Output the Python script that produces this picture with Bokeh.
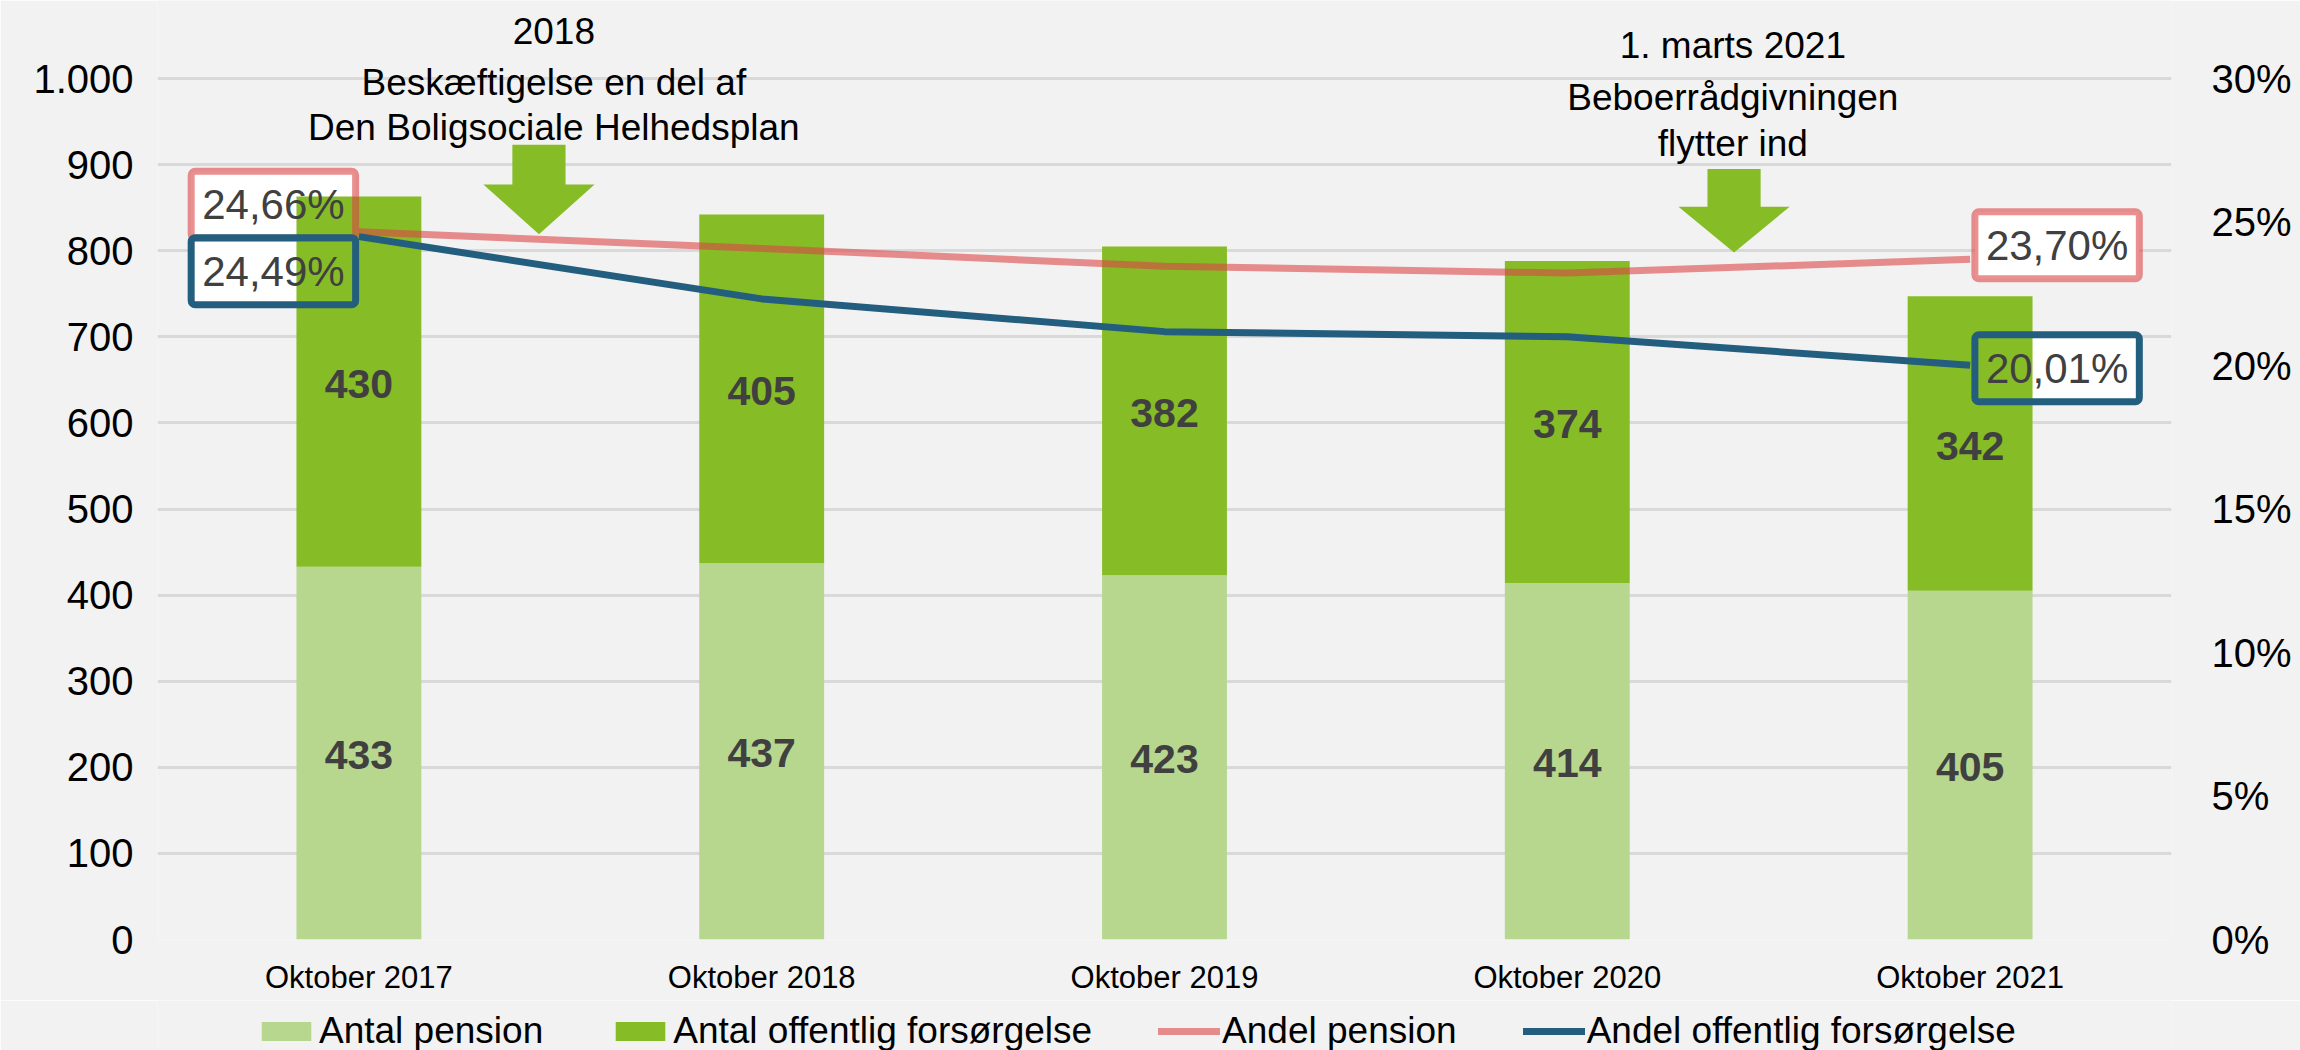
from bokeh.plotting import figure
from bokeh.layouts import column
from bokeh.models import (Range1d, FactorRange, LinearAxis, FixedTicker, Legend,
                          LegendItem, Label, ColumnDataSource)
from bokeh.embed import file_html
from bokeh.resources import INLINE
from bokeh.core.properties import value

# ---------------- data ----------------
categories = ["Oktober 2017", "Oktober 2018", "Oktober 2019", "Oktober 2020", "Oktober 2021"]
antal_pension = [433, 437, 423, 414, 405]
antal_offentlig = [430, 405, 382, 374, 342]
andel_pension = [24.66, 24.08, 23.46, 23.22, 23.70]
andel_offentlig = [24.49, 22.32, 21.18, 21.00, 20.01]

left_ticks = [0, 100, 200, 300, 400, 500, 600, 700, 800, 900, 1000]
left_tick_labels = ["0", "100", "200", "300", "400", "500", "600", "700", "800", "900", "1.000"]
right_ticks = [0, 5, 10, 15, 20, 25, 30]
right_tick_labels = ["0%", "5%", "10%", "15%", "20%", "25%", "30%"]

series_names = ["Antal pension", "Antal offentlig forsørgelse", "Andel pension", "Andel offentlig forsørgelse"]

note1_lines = ["2018", "Beskæftigelse en del af", "Den Boligsociale Helhedsplan"]
note2_lines = ["1. marts 2021", "Beboerrådgivningen", "flytter ind"]

# ---------------- style ----------------
FONT = "Liberation Sans"
BG = "#f2f2f2"
LIGHT_GREEN = "#b7d78f"
DARK_GREEN = "#86bc26"
PINK = "#dc4646"
PINK_ALPHA = 0.6
BLUE = "#235e7e"
LABEL_GRAY = "#404040"

W = 2300
H_MAIN, H_LEG = 1000, 50
FRAME_BOTTOM_PX = 939
PX_PER_UNIT = (939 - 78) / 1000.0          # 1000 gridline sits 78px from the top
Y_MAX = FRAME_BOTTOM_PX / PX_PER_UNIT      # headroom above 1.000 for the notes
PCT_MAX = 30 * Y_MAX / 1000.0

p = figure(width=W, height=H_MAIN,
           x_range=FactorRange(factors=categories, range_padding=0, factor_padding=0),
           y_range=Range1d(0, Y_MAX),
           output_backend="svg", toolbar_location=None,
           min_border_left=157, min_border_right=129, min_border_top=0,
           min_border_bottom=H_MAIN - FRAME_BOTTOM_PX,
           background_fill_color=BG, border_fill_color=BG, outline_line_color=None)

p.extra_y_ranges = {"pct": Range1d(0, PCT_MAX)}

# axes
p.yaxis.ticker = FixedTicker(ticks=left_ticks)
p.yaxis.major_label_overrides = {t: l for t, l in zip(left_ticks, left_tick_labels)}
right_axis = LinearAxis(y_range_name="pct", ticker=FixedTicker(ticks=right_ticks),
                        major_label_overrides={t: l for t, l in zip(right_ticks, right_tick_labels)})
p.add_layout(right_axis, "right")

for ax in [p.yaxis[0], right_axis, p.xaxis[0]]:
    ax.axis_line_color = None
    ax.major_tick_line_color = None
    ax.minor_tick_line_color = None
    ax.major_label_text_font = FONT
    ax.major_label_text_color = "black"
p.yaxis[0].major_label_text_font_size = "40px"
p.yaxis[0].major_label_standoff = 18
right_axis.major_label_text_font_size = "40px"
right_axis.major_label_standoff = 34
p.xaxis[0].major_label_text_font_size = "31px"
p.xaxis[0].major_label_standoff = 14

p.xgrid.grid_line_color = None
p.ygrid.ticker = FixedTicker(ticks=left_ticks)
p.ygrid.grid_line_color = "#d9d9d9"
p.ygrid.grid_line_width = 3

# ---------------- percent label boxes (fill layer, under bars) ----------------
box_src = ColumnDataSource(dict(
    x=[categories[0], categories[0], categories[-1], categories[-1]],
    y=[andel_pension[0], andel_offentlig[0], andel_pension[-1], andel_offentlig[-1]],
    text=[f"{v:.2f}%".replace(".", ",") for v in
          [andel_pension[0], andel_offentlig[0], andel_pension[-1], andel_offentlig[-1]]],
    xo=[-85.5, -85.5, 87, 87],
    yo=[-27, 34.5, -14, 3],
    bc=[PINK, BLUE, PINK, BLUE],
    ba=[PINK_ALPHA, 1.0, PINK_ALPHA, 1.0],
))
box_pad = dict(left=11, right=11, top=10, bottom=10)
p.text(x="x", y="y", text="text", source=box_src, y_range_name="pct",
       text_font=value(FONT), text_font_size="42px", text_alpha=0,
       text_align="center", text_baseline="middle", x_offset="xo", y_offset="yo",
       background_fill_color="white", border_line_color=None,
       padding=box_pad, border_radius=4)

# ---------------- bars ----------------
totals = [a + b for a, b in zip(antal_pension, antal_offentlig)]
r_pen = p.vbar(x=categories, top=antal_pension, bottom=0, width=0.31,
               fill_color=LIGHT_GREEN, line_color=None)
r_off = p.vbar(x=categories, top=totals, bottom=antal_pension, width=0.31,
               fill_color=DARK_GREEN, line_color=None)

mid_pen = [a / 2 for a in antal_pension]
mid_off = [a + b / 2 for a, b in zip(antal_pension, antal_offentlig)]
p.text(x=categories + categories, y=mid_pen + mid_off,
       text=[str(v) for v in antal_pension + antal_offentlig],
       text_font=value(FONT), text_font_size="41px", text_font_style="bold",
       text_color=LABEL_GRAY, text_align="center", text_baseline="middle", y_offset=2)

# ---------------- lines ----------------
p.line(x=categories, y=andel_pension, y_range_name="pct",
       line_color=PINK, line_alpha=PINK_ALPHA, line_width=7, line_join="round")
p.line(x=categories, y=andel_offentlig, y_range_name="pct",
       line_color=BLUE, line_width=7, line_join="round")

# ---------------- percent label borders + text ----------------
p.text(x="x", y="y", text="text", source=box_src, y_range_name="pct",
       text_font=value(FONT), text_font_size="42px", text_color=LABEL_GRAY,
       text_align="center", text_baseline="middle", x_offset="xo", y_offset="yo",
       background_fill_color=None, border_line_color="bc", border_line_alpha="ba",
       border_line_width=7, padding=box_pad, border_radius=4)

# ---------------- arrows ----------------
def arrow(cx, shaft_top, head_base, tip):
    sw, hw = 0.066, 0.138
    xs = [cx - sw, cx + sw, cx + sw, cx + hw, cx, cx - hw, cx - sw]
    ys = [shaft_top, shaft_top, head_base, head_base, tip, head_base, head_base]
    p.patch(xs, ys, fill_color=DARK_GREEN, line_color=None)

a1x = categories.index("Oktober 2017") + 0.5 + 0.447
a2x = categories.index("Oktober 2020") + 0.5 + 0.414
arrow(a1x, 923, 877, 819)
arrow(a2x, 895, 851, 798)

# ---------------- annotation texts ----------------
n1x = categories.index("Oktober 2017") + 0.5 + 0.484
n2x = categories.index("Oktober 2020") + 0.5 + 0.411
for txt, yy in zip(note1_lines, [1055.7, 995.4, 943.1]):
    p.add_layout(Label(x=n1x, y=yy, text=txt, text_align="center", text_baseline="alphabetic",
                       text_font=FONT, text_font_size="37px", text_color="black"))
for txt, yy in zip(note2_lines, [1038.3, 977.9, 924.5]):
    p.add_layout(Label(x=n2x, y=yy, text=txt, text_align="center", text_baseline="alphabetic",
                       text_font=FONT, text_font_size="37px", text_color="black"))

# ---------------- legend (own strip below the chart) ----------------
lg = figure(width=W, height=H_LEG, x_range=Range1d(0, 1), y_range=Range1d(0, 1),
            output_backend="svg", toolbar_location=None, min_border=0,
            background_fill_color=BG, border_fill_color=BG, outline_line_color=None)
lg.axis.visible = False
lg.grid.grid_line_color = None
# key-only glyphs, placed outside the visible strip
k_pen = lg.vbar(x=[5], top=[5], bottom=[4], width=0.1, fill_color=LIGHT_GREEN, line_color=None)
k_off = lg.vbar(x=[5], top=[5], bottom=[4], width=0.1, fill_color=DARK_GREEN, line_color=None)
k_lp = lg.line(x=[5, 6], y=[5, 5], line_color=PINK, line_alpha=PINK_ALPHA, line_width=7, line_cap="round")
k_lo = lg.line(x=[5, 6], y=[5, 5], line_color=BLUE, line_width=7, line_cap="round")
legend = Legend(items=[LegendItem(label=series_names[0], renderers=[k_pen]),
                       LegendItem(label=series_names[1], renderers=[k_off]),
                       LegendItem(label=series_names[2], renderers=[k_lp]),
                       LegendItem(label=series_names[3], renderers=[k_lo])],
                orientation="horizontal", location=(98, -2),
                glyph_width=62, glyph_height=24, label_standoff=2, spacing=66,
                padding=0, margin=0, background_fill_alpha=0, border_line_color=None,
                label_text_font=FONT, label_text_font_size="37px", label_text_color="black")
lg.add_layout(legend, "center")

layout = column(p, lg, spacing=0)
open("out.html", "w").write(file_html(layout, INLINE))
